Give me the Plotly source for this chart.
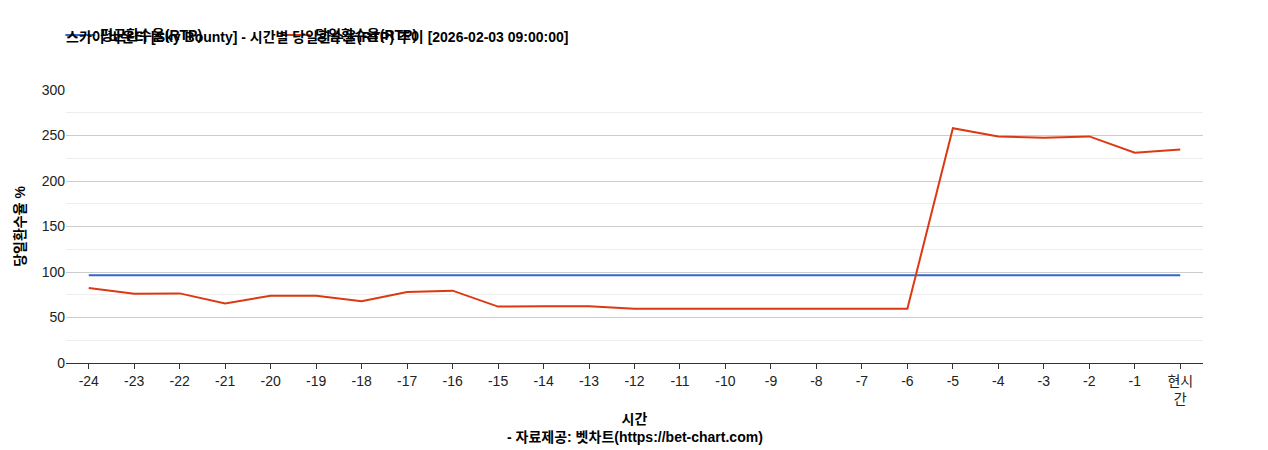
import plotly.graph_objects as go

hours = ["-24","-23","-22","-21","-20","-19","-18","-17","-16","-15","-14","-13","-12","-11","-10","-9","-8","-7","-6","-5","-4","-3","-2","-1","현시<br>간"]
avg_rtp = [96.5]*25
daily_rtp = [82.5,76,76.5,65.5,74,74,68,78,79.5,62,62.5,62.5,59.5,59.5,59.5,59.5,59.5,59.5,59.5,258,249,247.5,249,231,234.5]

fig = go.Figure()
fig.add_trace(go.Scatter(x=hours, y=avg_rtp, mode="lines", name="<b>평균환수율(RTP)</b>",
                         line=dict(color="#3366cc", width=2)))
fig.add_trace(go.Scatter(x=hours, y=daily_rtp, mode="lines", name="<b>당일환수율(RTP)</b>",
                         line=dict(color="#dc3912", width=2)))
font = "Liberation Sans, Noto Sans CJK KR, sans-serif"
fig.update_layout(
    width=1268, height=450, plot_bgcolor="white", paper_bgcolor="white",
    font=dict(family=font, size=14, color="#222"),
    margin=dict(l=55, r=73, t=78, b=95),
    title=dict(text="<b>스카이 바운티 [Sky Bounty] - 시간별 당일환수율(RTP) 추이 [2026-02-03 09:00:00]</b>",
               x=0, xref="paper", xanchor="left", y=0.935, yanchor="middle", font=dict(size=14, color="#000")),
    legend=dict(orientation="h", x=-0.005, xanchor="left", y=1.2, yanchor="middle",
                font=dict(size=14, color="#000"), entrywidth=170),
    showlegend=True,
)
fig.update_xaxes(type="category", range=[-0.5, 24.5], showgrid=False, showline=True, linecolor="#333",
                 ticks="outside", ticklen=5, tickcolor="#333",
                 title=dict(text="<b>시간</b>", font=dict(size=14, color="#000"), standoff=8),
                 tickfont=dict(size=14, color="#222"))
fig.update_yaxes(range=[0, 300], dtick=50, showgrid=True, gridcolor="#ccc", zeroline=False,
                 minor=dict(dtick=25, showgrid=True, gridcolor="#eee"),
                 title=dict(text="<b>당일환수율 %</b>", font=dict(size=14, color="#000"), standoff=12),
                 tickfont=dict(size=14, color="#222"))
fig.add_annotation(text="<b>- 자료제공: 벳차트(https://bet-chart.com)</b>", xref="paper", yref="paper",
                   x=0.5, y=0, yanchor="middle", yshift=-74, showarrow=False, font=dict(size=14, color="#000"))
fig.write_html("out.html")
